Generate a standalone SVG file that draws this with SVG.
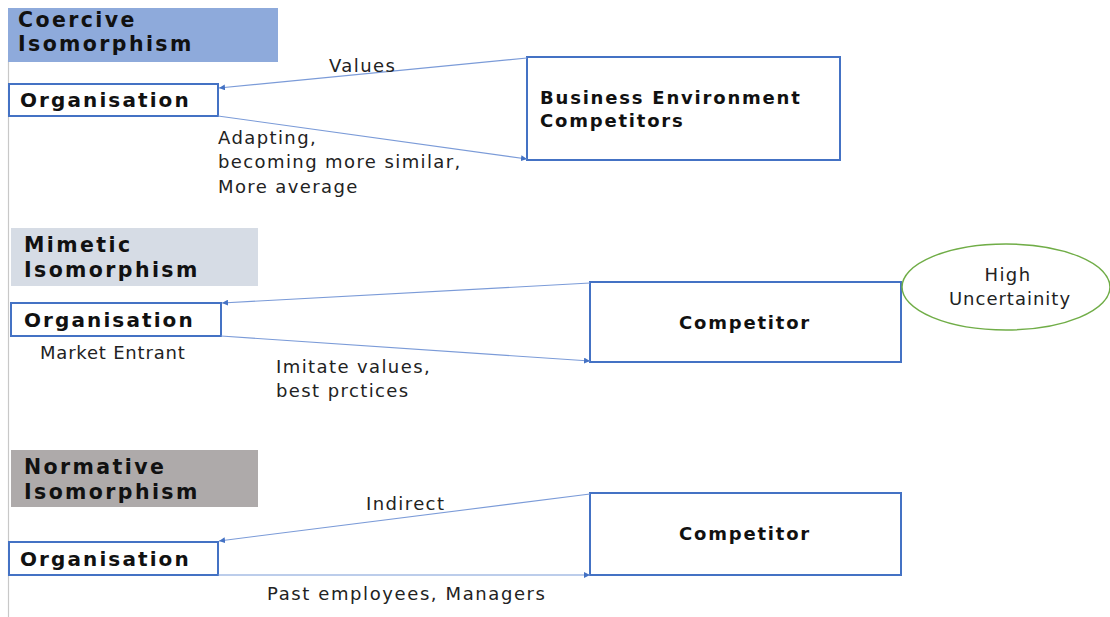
<svg xmlns="http://www.w3.org/2000/svg" width="1110" height="617" viewBox="0 0 1110 617">
  <defs>
    <style>
      .hdr { font-family: "DejaVu Sans", sans-serif; font-weight: bold; font-size: 20.5px; letter-spacing: 2.4px; fill: #111; }
      .org { font-family: "DejaVu Sans", sans-serif; font-weight: bold; font-size: 20px; letter-spacing: 2.1px; fill: #111; }
      .bx { font-family: "DejaVu Sans", sans-serif; font-weight: bold; font-size: 18px; letter-spacing: 1.8px; fill: #111; }
      .lbl { font-family: "DejaVu Sans", sans-serif; font-size: 18px; letter-spacing: 1.4px; fill: #222; }
      .node { fill: #fff; stroke: #4472c4; stroke-width: 2; }
      .link { fill: none; stroke: #7b9bd8; stroke-width: 1.1; }
    </style>
    <marker id="ah" viewBox="0 0 10 10" refX="10" refY="5" markerWidth="6" markerHeight="6" markerUnits="userSpaceOnUse" orient="auto">
      <path d="M0,0 L10,5 L0,10 z" fill="#4472c4"/>
    </marker>
  </defs>

  <rect width="1110" height="617" fill="#fff"/>
  <!-- left margin rule -->
  <line x1="8.5" y1="60" x2="8.5" y2="617" stroke="#c8c8c8" stroke-width="1.2"/>

  <!-- section headers -->
  <g id="hdr-coercive">
    <rect x="8" y="8" width="270" height="54" fill="#8eaadb"/>
    <text class="hdr" x="18" y="27">Coercive</text>
    <text class="hdr" x="18" y="51">Isomorphism</text>
  </g>
  <g id="hdr-mimetic">
    <rect x="11" y="228" width="247" height="58" fill="#d6dce5"/>
    <text class="hdr" x="24" y="252">Mimetic</text>
    <text class="hdr" x="24" y="277">Isomorphism</text>
  </g>
  <g id="hdr-normative">
    <rect x="11" y="450" width="247" height="57" fill="#aeaaaa"/>
    <text class="hdr" x="24" y="474">Normative</text>
    <text class="hdr" x="24" y="499">Isomorphism</text>
  </g>

  <!-- nodes -->
  <g id="org1">
    <rect class="node" x="9" y="84" width="209" height="32"/>
    <text class="org" x="20" y="107">Organisation</text>
  </g>
  <g id="business">
    <rect class="node" x="527" y="57" width="313" height="103"/>
    <text class="bx" x="540" y="104">Business Environment</text>
    <text class="bx" x="540" y="127">Competitors</text>
  </g>
  <g id="org2">
    <rect class="node" x="11" y="303" width="210" height="33"/>
    <text class="org" x="24" y="327">Organisation</text>
    <text class="lbl" x="40" y="359" style="letter-spacing:0.8px">Market Entrant</text>
  </g>
  <g id="competitor2">
    <rect class="node" x="590" y="282" width="311" height="80"/>
    <text class="bx" x="745" y="329" text-anchor="middle">Competitor</text>
  </g>
  <g id="uncertainty">
    <ellipse cx="1006" cy="287" rx="104" ry="43" fill="#fff" stroke="#70ad47" stroke-width="1.5"/>
    <text class="lbl" x="1008" y="281" text-anchor="middle">High</text>
    <text class="lbl" x="1010" y="305" text-anchor="middle" style="letter-spacing:1px">Uncertainity</text>
  </g>
  <g id="org3">
    <rect class="node" x="9" y="542" width="209" height="33"/>
    <text class="org" x="20" y="566">Organisation</text>
  </g>
  <g id="competitor3">
    <rect class="node" x="590" y="493" width="311" height="82"/>
    <text class="bx" x="745" y="540" text-anchor="middle">Competitor</text>
  </g>

  <!-- connectors -->
  <g id="connectors">
    <line class="link" x1="527" y1="58" x2="219" y2="88" marker-end="url(#ah)"/>
    <line class="link" x1="218" y1="116" x2="527" y2="159" marker-end="url(#ah)"/>
    <line class="link" x1="590" y1="283" x2="222" y2="303" marker-end="url(#ah)"/>
    <line class="link" x1="221" y1="336" x2="590" y2="361" marker-end="url(#ah)"/>
    <line class="link" x1="590" y1="494" x2="219" y2="541" marker-end="url(#ah)"/>
    <line class="link" x1="218" y1="575" x2="590" y2="575" marker-end="url(#ah)"/>

    <text class="lbl" x="329" y="72">Values</text>
    <text class="lbl" x="218" y="144">Adapting,</text>
    <text class="lbl" x="218" y="168">becoming more similar,</text>
    <text class="lbl" x="218" y="193">More average</text>
    <text class="lbl" x="276" y="373">Imitate values,</text>
    <text class="lbl" x="276" y="397">best prctices</text>
    <text class="lbl" x="366" y="510">Indirect</text>
    <text class="lbl" x="267" y="600" style="letter-spacing:1.6px">Past employees, Managers</text>
  </g>
</svg>
